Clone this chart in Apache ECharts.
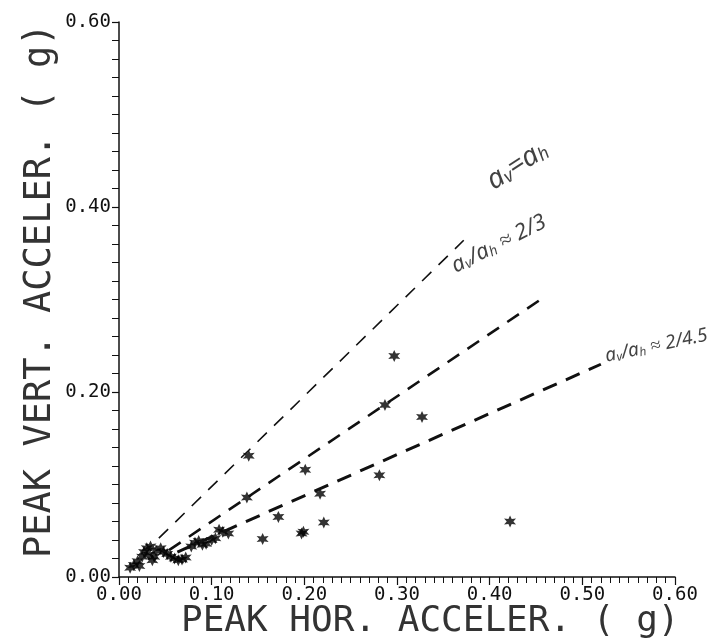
<!DOCTYPE html>
<html>
<head>
<meta charset="utf-8">
<script src="https://cdn.jsdelivr.net/npm/echarts@6/dist/echarts.min.js"></script>
<style>
html,body{margin:0;padding:0;background:#fff;}
#chart{width:714px;height:641px;}
</style>
</head>
<body>
<div id="chart"></div>
<script>
// Peak horizontal acceleration (g) of each record
var hAccel = [0.012,0.016,0.020,0.022,0.025,0.027,0.030,0.032,0.034,0.036,0.038,0.040,0.045,0.048,0.052,0.056,0.060,0.064,0.068,0.072,0.078,0.082,0.086,0.090,0.094,0.100,0.104,0.108,0.112,0.118,
              0.138,0.140,0.155,0.172,0.197,0.199,0.201,0.217,0.221,0.281,0.287,0.297,0.327,0.422];
// Peak vertical acceleration (g) of each record
var vAccel = [0.010,0.013,0.017,0.012,0.022,0.027,0.031,0.024,0.033,0.018,0.022,0.028,0.031,0.027,0.025,0.022,0.020,0.018,0.019,0.021,0.033,0.037,0.039,0.035,0.036,0.040,0.042,0.051,0.049,0.047,
              0.086,0.131,0.041,0.065,0.047,0.049,0.116,0.090,0.059,0.110,0.186,0.239,0.173,0.060];
// reference lines (start / end)
var lineEqualX = [0.043, 0.372], lineEqualY = [0.042, 0.364];
var lineTwoThirdsX = [0.054, 0.455], lineTwoThirdsY = [0.029, 0.300];
var lineTwoFourHalfX = [0.063, 0.520], lineTwoFourHalfY = [0.027, 0.230];
// annotation texts and anchors
var noteTexts = ['a{s|v}=a{s|h}', 'a{s|v}/a{s|h} ≈ 2/3', 'a{s|v}/a{s|h} ≈ 2/4.5'];
var noteX = [0.430, 0.410, 0.580];
var noteY = [0.445, 0.360, 0.250];
var noteAngle = [33, 27, 12];
var noteSize = [28, 22, 19];
var xTicks = ['0.00','0.10','0.20','0.30','0.40','0.50','0.60'];
var yTicks = ['0.00','0.20','0.40','0.60'];

var chart = echarts.init(document.getElementById('chart'));
function pairs(xa, ya){ return xa.map(function(x,i){return [x, ya[i]];}); }
var star = 'path://M0,-10 L2.4,-4.2 L8.7,-5 L4.8,0 L8.7,5 L2.4,4.2 L0,10 L-2.4,4.2 L-8.7,5 L-4.8,0 L-8.7,-5 L-2.4,-4.2 Z';
var monoFont = 'DejaVu Sans Mono';

var notes = noteTexts.map(function(t,i){
  return {value:[noteX[i], noteY[i]], label:{show:true, formatter:t, rotate:noteAngle[i], fontSize:noteSize[i],
    rich:{s:{fontSize:Math.round(noteSize[i]*0.65), fontFamily:'Noto Sans', fontStyle:'italic', color:'#111', verticalAlign:'bottom'}}}};
});

chart.setOption({
  animation:false,
  backgroundColor:'#fff',
  grid:{left:119, right:39, top:22, bottom:64},
  xAxis:{
    type:'value', min:0, max:0.6, interval:0.1,
    axisLine:{onZero:false, lineStyle:{color:'#111', width:1.5}},
    axisTick:{length:8, lineStyle:{color:'#111', width:1.2}},
    minorTick:{show:true, splitNumber:10, length:6, lineStyle:{color:'#111', width:1}},
    splitLine:{show:false},
    axisLabel:{margin:9, color:'#111', fontFamily:monoFont, fontSize:19,
      formatter:function(v){ return xTicks[Math.round(v*10)]; }}
  },
  yAxis:{
    type:'value', min:0, max:0.6, interval:0.2,
    axisLine:{onZero:false, lineStyle:{color:'#111', width:1.5}},
    axisTick:{length:7, lineStyle:{color:'#111', width:1.2}},
    minorTick:{show:true, splitNumber:10, length:7, lineStyle:{color:'#111', width:1}},
    splitLine:{show:false},
    axisLabel:{margin:8, color:'#111', fontFamily:monoFont, fontSize:19,
      formatter:function(v){ return yTicks[Math.round(v*5)]; }}
  },
  graphic:[
    {type:'text', left:181, top:604, style:{text:'PEAK HOR. ACCELER. ( g)', font:'36px "DejaVu Sans Mono"', fill:'#333'}},
    {type:'text', x:22, y:558, rotation:Math.PI/2, style:{text:'PEAK VERT. ACCELER. ( g)', font:'37px "DejaVu Sans Mono"', fill:'#333'}}
  ],
  series:[
    {type:'line', data:pairs(lineEqualX, lineEqualY), symbol:'none', silent:true,
      lineStyle:{color:'#111', width:1.6, type:[13,10]}},
    {type:'line', data:pairs(lineTwoThirdsX, lineTwoThirdsY), symbol:'none', silent:true,
      lineStyle:{color:'#111', width:2.6, type:[14,10]}},
    {type:'line', data:pairs(lineTwoFourHalfX, lineTwoFourHalfY), symbol:'none', silent:true,
      lineStyle:{color:'#111', width:3, type:[15,10]}},
    {type:'scatter', data:pairs(hAccel, vAccel), symbol:star, symbolSize:12,
      itemStyle:{color:'#000'}},
    {type:'scatter', data:notes, symbolSize:0, silent:true,
      label:{position:'inside', color:'#111', fontFamily:'Noto Sans', fontStyle:'italic'}}
  ]
});
</script>
</body>
</html>
